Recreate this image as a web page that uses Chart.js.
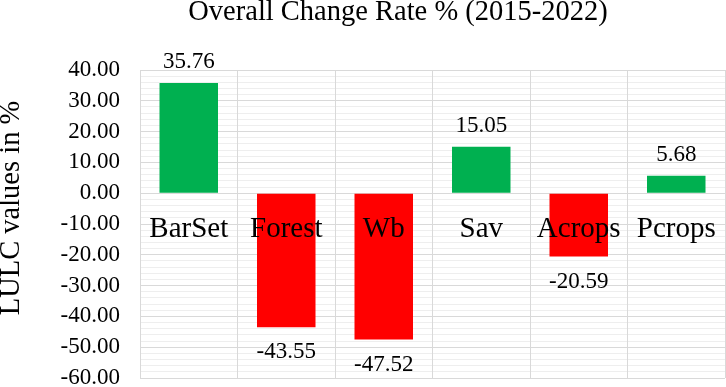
<!DOCTYPE html>
<html>
<head>
<meta charset="utf-8">
<script src="https://cdn.jsdelivr.net/npm/chart.js@4/dist/chart.umd.min.js"></script>
<style>
  html, body { margin: 0; padding: 0; background: #fff; }
  #wrap { width: 726px; height: 387px; }
</style>
</head>
<body>
<div id="wrap"><canvas id="c"></canvas></div>
<script>
// ===== LULC overall change rate (2015-2022) =====
const categories = ['BarSet', 'Forest', 'Wb', 'Sav', 'Acrops', 'Pcrops'];
const changeRates = [35.76, -43.55, -47.52, 15.05, -20.59, 5.68];
const yMin = -60, yMax = 40, yStep = 10, yMinorStep = 2;
const chartTitle = 'Overall Change Rate % (2015-2022)';
const yTitle = 'LULC values in %';

const SERIF = '"Liberation Serif", "Times New Roman", serif';
const GREEN = '#00B050', RED = '#FF0000', GRID = '#d9d9d9';

// no extra layout padding from tick labels, keep the plot box fixed
const noPad = s => { s.paddingTop = 0; s.paddingBottom = 0; s.paddingLeft = 0; s.paddingRight = 0; };

// value labels above positive bars / below negative ones, plus the titles
// (Excel places them a bit off-centre, so drawn by hand)
const labelsPlugin = {
    id: 'labelsPlugin',
    afterDatasetsDraw(chart) {
        const ctx = chart.ctx;
        const meta = chart.getDatasetMeta(0);
        ctx.save();
        ctx.fillStyle = '#000';
        ctx.textAlign = 'center';
        ctx.textBaseline = 'middle';
        ctx.font = '23px ' + SERIF;
        meta.data.forEach((bar, i) => {
            const v = changeRates[i];
            const y = v >= 0 ? bar.y - 21 : bar.y + 25;
            ctx.fillText(v.toFixed(2), bar.x, y);
        });
        ctx.font = '28.5px ' + SERIF;
        ctx.fillText(chartTitle, 398, 13);
        ctx.translate(12, 208);
        ctx.rotate(-Math.PI / 2);
        ctx.fillText(yTitle, 0, 0);
        ctx.restore();
    }
};

new Chart(document.getElementById('c'), {
    type: 'bar',
    data: {
        labels: categories,
        datasets: [{
            data: changeRates,
            backgroundColor: changeRates.map(v => v >= 0 ? GREEN : RED),
            borderWidth: 0,
            barPercentage: 0.6,
            categoryPercentage: 1
        }]
    },
    options: {
        responsive: true,
        maintainAspectRatio: false,
        animation: false,
        layout: { padding: { top: 70, right: 1, bottom: 9, left: 0 } },
        plugins: {
            legend: { display: false },
            tooltip: { enabled: false },
            title: { display: false }
        },
        scales: {
            x: {
                position: { y: 0 },
                offset: true,
                grid: { offset: true, color: GRID, drawTicks: false },
                border: { display: true, color: GRID },
                ticks: { z: 1, color: '#000', font: { family: SERIF, size: 29 }, padding: 19, maxRotation: 0, autoSkip: false },
                afterFit: noPad
            },
            yMinor: {
                position: 'left',
                min: yMin, max: yMax,
                ticks: { display: false, stepSize: yMinorStep },
                grid: { color: '#eeeeee', drawTicks: false, z: -2 },
                border: { display: false },
                afterFit: s => { s.width = 0; noPad(s); }
            },
            y: {
                position: 'left',
                min: yMin, max: yMax,
                ticks: {
                    stepSize: yStep,
                    color: '#000',
                    padding: 20,
                    font: { family: SERIF, size: 23 },
                    callback: v => Number(v).toFixed(2)
                },
                grid: { color: GRID, drawTicks: false },
                border: { display: true, color: GRID },
                afterFit: s => { s.width = 140; noPad(s); }
            }
        }
    },
    plugins: [labelsPlugin]
});
</script>
</body>
</html>
